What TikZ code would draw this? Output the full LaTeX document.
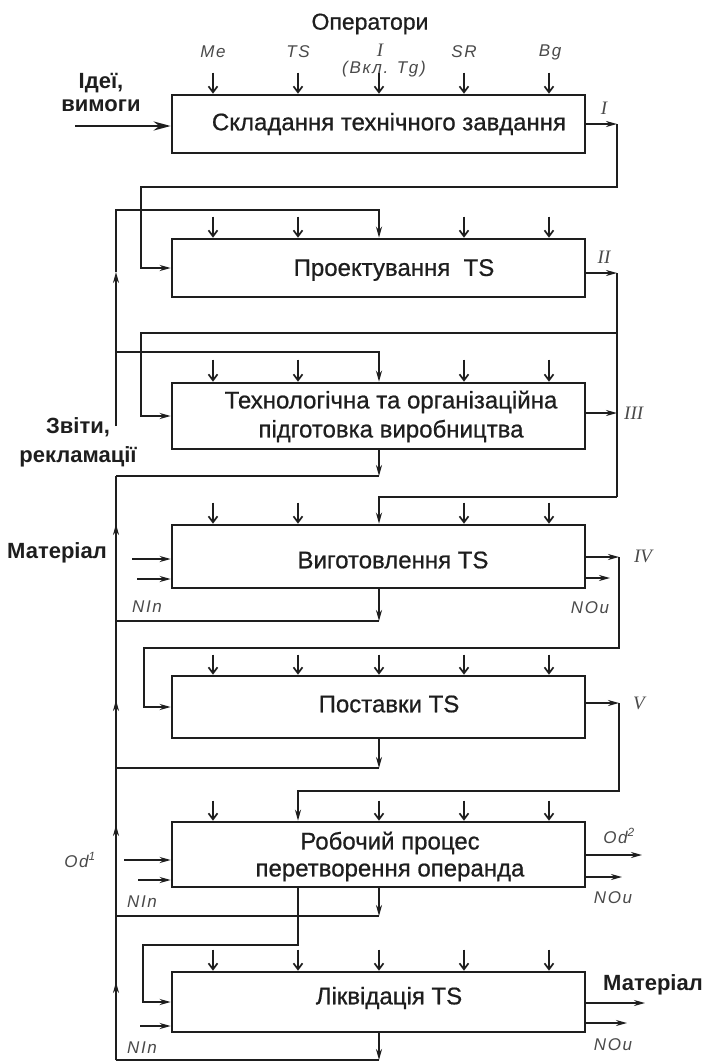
\documentclass[tikz,border=0pt]{standalone}
\usepackage{fontspec}
\setmainfont{Liberation Sans}
\newfontfamily\boxfont[FakeBold=0.7]{Liberation Sans}
\newfontfamily\gostfont[LetterSpace=10]{Liberation Sans}
\newfontfamily\romfont{Liberation Serif}
\usetikzlibrary{arrows.meta}
\definecolor{ink}{HTML}{1E1E1E}
\definecolor{lbl}{HTML}{4A4A4A}
\begin{document}
\begin{tikzpicture}[x=1pt,y=-1pt,
 box/.style={draw=ink, line width=2.6pt, minimum width=413pt, inner sep=0pt},
 ln/.style={draw=ink, line width=1.7pt, line join=miter},
 arr/.style={ln, -{Stealth[length=11pt,width=6pt]}},
 oparr/.style={ln, -{Straight Barb[length=6pt,width=9pt]}},
 btxt/.style={font=\boxfont\fontsize{24}{29}\selectfont, text=ink, align=center},
 olbl/.style={font=\bfseries\fontsize{22}{29}\selectfont, text=ink, align=center},
 ilbl/.style={font=\gostfont\itshape\fontsize{17}{20}\selectfont, text=lbl, inner sep=0pt},
 rlbl/.style={font=\romfont\itshape\fontsize{19}{22}\selectfont, text=lbl, inner sep=0pt},
]
\useasboundingbox (0,0) rectangle (706,1061);
\fill[white] (0,0) rectangle (706,1061);

% operator x positions
\coordinate (ox1) at (213,0);
\coordinate (ox2) at (298,0);
\coordinate (ox3) at (379,0);
\coordinate (ox4) at (464,0);
\coordinate (ox5) at (549,0);

% boxes
\node[box, minimum height=58pt] (b1) at (378.5,124) {};
\node[box, minimum height=58pt] (b2) at (378.5,268) {};
\node[box, minimum height=66pt] (b3) at (378.5,416) {};
\node[box, minimum height=63pt] (b4) at (378.5,556.5) {};
\node[box, minimum height=62pt] (b5) at (378.5,707) {};
\node[box, minimum height=65pt] (b6) at (378.5,854.5) {};
\node[box, minimum height=60pt] (b7) at (378.5,1002) {};

% box texts
\node[btxt] (t1) at (389,124) {Складання технічного завдання};
\node[btxt] (t2) at (394,270) {Проектування\ \ TS};
\node[btxt] (t3) at (391,416.5) {Технологічна та організаційна\\підготовка виробництва};
\node[btxt] (t4) at (393,560) {Виготовлення TS};
\node[btxt] (t5) at (389,704) {Поставки TS};
\node[btxt, font=\boxfont\fontsize{24}{27}\selectfont] (t6) at (390,856.5) {Робочий процес\\перетворення операнда};
\node[btxt] (t7) at (389,998) {Ліквідація TS};

% operators header
\node[font=\boxfont\fontsize{23}{26}\selectfont, text=ink] (ops) at (370,24) {Оператори};
\node[ilbl] (lMe) at (213,52) {Me};
\node[ilbl] (lTS) at (298,52) {TS};
\node[rlbl] (lI) at (380,50) {I};
\node[ilbl] (lTg) at (384,69) {(Вкл. Tg)};
\node[ilbl] (lSR) at (464,52) {SR};
\node[ilbl] (lBg) at (550,52) {Bg};

% operator arrows
\foreach \i in {1,...,5} \draw[oparr] ([yshift=21pt]b1.north -| ox\i) -- (b1.north -| ox\i);
\foreach \i in {1,2,4,5} \draw[oparr] ([yshift=21pt]b2.north -| ox\i) -- (b2.north -| ox\i);
\foreach \i in {1,2,4,5} \draw[oparr] ([yshift=22pt]b3.north -| ox\i) -- (b3.north -| ox\i);
\foreach \i in {1,2,4,5} \draw[oparr] ([yshift=21pt]b4.north -| ox\i) -- (b4.north -| ox\i);
\foreach \i in {1,...,5} \draw[oparr] ([yshift=20pt]b5.north -| ox\i) -- (b5.north -| ox\i);
\foreach \i in {1,3,4,5} \draw[oparr] ([yshift=20pt]b6.north -| ox\i) -- (b6.north -| ox\i);
\foreach \i in {1,...,5} \draw[oparr] ([yshift=21pt]b7.north -| ox\i) -- (b7.north -| ox\i);

% ideas input
\node[olbl, font=\bfseries\fontsize{22}{23}\selectfont] (ideas) at (101,92) {Ідеї,\\вимоги};
\coordinate (ideaS) at (75,126);
\draw[ln, line width=2.8pt, -{Stealth[length=17pt,width=9pt]}] (ideaS) -- (ideaS -| b1.west);

% box 1 output I
\coordinate (r1) at (617,124);
\coordinate (c2) at (141,187);
\draw[arr] (b1.east) -- (r1);
\draw[arr] (r1) |- (c2) |- (b2.west);
\node[rlbl] (lI1) at (604,108) {I};

% upper left feedback rail
\coordinate (fbB) at (116,426);
\coordinate (fbA) at (116,272);
\coordinate (fbT) at (116,210);
\coordinate (j3) at (116,352);
\draw[arr] (fbB) -- (fbA);
\draw[arr] (fbA) -- (fbT) -| (b2.north -| ox3);
\draw[arr] (j3) -| (b3.north -| ox3);
\node[olbl] (rep) at (78,442) {Звіти,\\рекламації};

% box 2 output II
\coordinate (r2) at (617,273);
\coordinate (r2b) at (617,333);
\coordinate (c3) at (141,333);
\coordinate (r3b) at (617,497);
\draw[arr] (b2.east |- r2) -- (r2);
\draw[ln] (r2) -- (r3b);
\draw[arr] (r2b) -- (c3) |- (b3.west);
\node[rlbl] (lII) at (604,257) {II};

% box 3 output III
\coordinate (r3) at (617,413);
\draw[arr] (b3.east |- r3) -- (r3);
\node[rlbl, anchor=west] (lIII) at (624,413) {III};
\draw[arr] (r3b) -| (b4.north -| ox3);

% lower left rail
\coordinate (J3) at (116,476);
\coordinate (J4) at (116,621);
\coordinate (J5) at (116,768);
\coordinate (J6) at (116,916);
\coordinate (J7) at (116,1060);
\coordinate (A4) at (116,524);
\coordinate (A5) at (116,700);
\coordinate (A6) at (116,825);
\coordinate (A7) at (116,982);
\draw[ln] (J7) -- (J3);
\draw[arr] (J4) -- (A4);
\draw[arr] (J5) -- (A5);
\draw[arr] (J6) -- (A6);
\draw[arr] (J7) -- (A7);

% bottom outputs of boxes into the rail
\draw[arr] (b3.south -| ox3) -- (J3 -| ox3);
\draw[ln] (J3 -| ox3) -- (J3);
\draw[arr] (b4.south -| ox3) -- (J4 -| ox3);
\draw[ln] (J4 -| ox3) -- (J4);
\draw[arr] (b5.south -| ox3) -- (J5 -| ox3);
\draw[ln] (J5 -| ox3) -- (J5);
\draw[arr] (b6.south -| ox3) -- (J6 -| ox3);
\draw[ln] (J6 -| ox3) -- (J6);
\draw[arr] (b7.south -| ox3) -- (J7 -| ox3);
\draw[ln] (J7 -| ox3) -- (J7);

% box 4 inputs / outputs
\node[olbl] (mat1) at (57,553) {Матеріал};
\coordinate (m41) at (132,559);
\coordinate (m42) at (137,579);
\draw[arr] (m41) -- (m41 -| b4.west);
\draw[arr] (m42) -- (m42 -| b4.west);
\node[ilbl] (nin4) at (147,607) {NIn};
\coordinate (r4) at (619,557);
\coordinate (c5) at (144,648);
\coordinate (n4) at (610,578);
\draw[arr] (b4.east |- r4) -- (r4);
\draw[arr] (r4) |- (c5) |- (b5.west);
\draw[arr] (b4.east |- n4) -- (n4);
\node[rlbl] (lIV) at (643,556) {IV};
\node[ilbl] (nou4) at (590,608) {NOu};

% box 5 output V
\coordinate (r5) at (619,703);
\coordinate (c6) at (298,791);
\draw[arr] (b5.east |- r5) -- (r5);
\draw[arr] (r5) |- (c6) -- (b6.north -| ox2);
\node[rlbl] (lV) at (639,703) {V};

% box 6 inputs / outputs
\node[ilbl] (od1) at (80,860) {Od\textsuperscript{1}};
\coordinate (m61) at (124,860);
\coordinate (m62) at (138,880);
\draw[arr] (m61) -- (m61 -| b6.west);
\draw[arr] (m62) -- (m62 -| b6.west);
\node[ilbl] (nin6) at (142,902) {NIn};
\coordinate (o61) at (642,855);
\coordinate (o62) at (622,877);
\draw[arr] (b6.east |- o61) -- (o61);
\draw[arr] (b6.east |- o62) -- (o62);
\node[ilbl] (od2) at (619,836) {Od\textsuperscript{2}};
\node[ilbl] (nou6) at (613,898) {NOu};
\coordinate (c7) at (143,945);
\draw[arr] (b6.south -| ox2) |- (c7) |- (b7.west);

% box 7 inputs / outputs
\coordinate (m72) at (140,1026);
\draw[arr] (m72) -- (m72 -| b7.west);
\node[ilbl] (nin7) at (142,1048) {NIn};
\coordinate (o71) at (645,1003);
\coordinate (o72) at (627,1023);
\draw[arr] (b7.east |- o71) -- (o71);
\draw[arr] (b7.east |- o72) -- (o72);
\node[olbl] (mat2) at (653,985) {Матеріал};
\node[ilbl] (nou7) at (613,1045) {NOu};
\end{tikzpicture}
\end{document}
